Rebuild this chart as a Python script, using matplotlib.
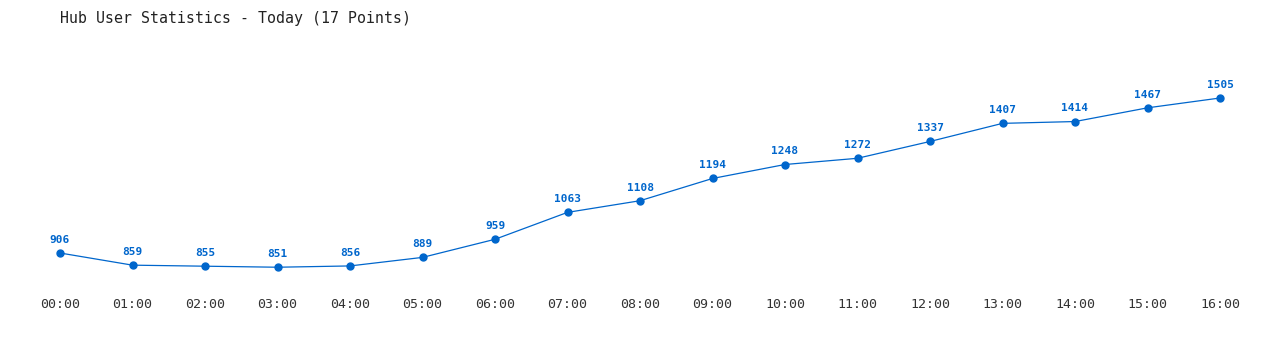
import matplotlib.pyplot as plt

# Data
hours = ['00:00', '01:00', '02:00', '03:00', '04:00', '05:00', '06:00', '07:00', '08:00',
         '09:00', '10:00', '11:00', '12:00', '13:00', '14:00', '15:00', '16:00']
users = [906, 859, 855, 851, 856, 889, 959, 1063, 1108, 1194, 1248, 1272, 1337, 1407, 1414, 1467, 1505]

blue = '#0066cc'
mono = 'DejaVu Sans Mono'

fig = plt.figure(figsize=(12.8, 3.5), dpi=100)
ax = fig.add_axes([60/1280, 60/350, 1160/1280, 192/350])

x = range(len(users))
ax.plot(x, users, '-', color=blue, lw=0.9, marker='o', ms=5, clip_on=False)

for xi, v in zip(x, users):
    ax.annotate(str(v), (xi, v), xytext=(0, 9.5), textcoords='offset points',
                ha='center', va='center', fontsize=8, fontweight='bold',
                color=blue, family=mono)

ax.set_xlim(0, len(users) - 1)
ax.set_ylim(763, 1505)
ax.set_xticks(list(x))
ax.set_xticklabels(hours, family=mono, fontsize=9.5, color='#333333')
ax.set_yticks([])
ax.tick_params(axis='x', length=0, pad=6)
for s in ax.spines.values():
    s.set_visible(False)

fig.text(60/1280, 1 - 18/350, 'Hub User Statistics - Today (17 Points)',
         family=mono, fontsize=10.7, color='#222222', ha='left', va='center')

fig.savefig('out.png', dpi=100)
